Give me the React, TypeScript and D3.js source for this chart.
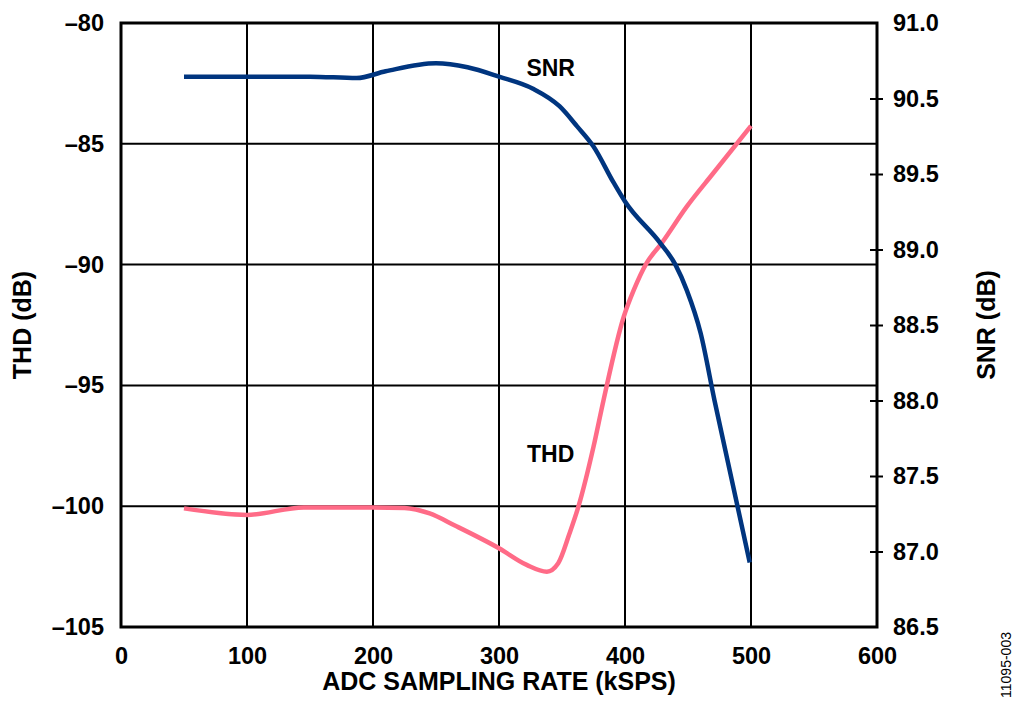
import { useEffect, useRef } from "react"
import * as d3 from "d3"

// sampling rate (kSPS) vs SNR (dB)
const snrRate = [50, 100, 150, 187, 210, 250, 275, 300, 327, 348, 362, 375, 391, 400, 428, 440, 449, 460, 471, 499]
const snrValue = [90.6, 90.6, 90.6, 90.59, 90.64, 90.7, 90.67, 90.6, 90.51, 90.38, 90.23, 90.08, 89.81, 89.67, 89.36, 89.2, 89.01, 88.69, 88.19, 86.98]

// sampling rate (kSPS) vs THD (dB)
const thdRate = [50, 100, 145, 200, 225, 245, 265, 300, 322, 338, 347, 356, 363, 375, 383, 399, 407, 417, 429, 449, 470, 500]
const thdValue = [-100.09, -100.36, -100.05, -100.05, -100.07, -100.3, -100.8, -101.74, -102.43, -102.71, -102.36, -101.12, -100.02, -97.54, -95.6, -92.16, -91.05, -89.95, -89.12, -87.6, -86.22, -84.26]

const xTicks = [0, 100, 200, 300, 400, 500, 600]
const thdTicks = [-80, -85, -90, -95, -100, -105]
// the right axis labels as printed (90.0 is skipped in the original)
const snrTickLabels = ["91.0", "90.5", "89.5", "89.0", "88.5", "88.0", "87.5", "87.0", "86.5"]

const SNR_COLOR = "#00357f"
const THD_COLOR = "#ff6b87"
const FONT = "'Liberation Sans', Arial, sans-serif"

export default function App() {
  const svgRef = useRef<SVGSVGElement>(null)

  useEffect(() => {
    if (!svgRef.current) return
    document.body.style.margin = "0"

    const width = 1024
    const height = 714
    const margin = { top: 23, right: 147, bottom: 87, left: 121 }
    const plotW = width - margin.left - margin.right
    const plotH = height - margin.top - margin.bottom

    const root = d3.select(svgRef.current)
    root.selectAll("*").remove()
    root.attr("width", width).attr("height", height)

    const svg = root.append("g").attr("transform", `translate(${margin.left},${margin.top})`)

    const x = d3.scaleLinear().domain([0, 600]).range([0, plotW])
    const yThd = d3.scaleLinear().domain([-105, -80]).range([plotH, 0])
    const ySnr = d3.scaleLinear().domain([86.5, 91]).range([plotH, 0])
    const ySnrTicks = d3.scalePoint<string>().domain(snrTickLabels).range([0, plotH])

    // grid
    svg
      .append("g")
      .selectAll("line")
      .data(xTicks.slice(1, -1))
      .enter()
      .append("line")
      .attr("x1", (d) => x(d))
      .attr("x2", (d) => x(d))
      .attr("y1", 0)
      .attr("y2", plotH)
      .attr("stroke", "#000")
      .attr("stroke-width", 2)

    svg
      .append("g")
      .selectAll("line")
      .data(thdTicks.slice(1, -1))
      .enter()
      .append("line")
      .attr("x1", 0)
      .attr("x2", plotW)
      .attr("y1", (d) => yThd(d))
      .attr("y2", (d) => yThd(d))
      .attr("stroke", "#000")
      .attr("stroke-width", 2)

    // left axis
    const left = svg
      .append("g")
      .call(d3.axisLeft(yThd).tickValues(thdTicks).tickSize(0).tickPadding(17).tickFormat((d) => `${d}`.replace("-", "\u2013")))
    left.select(".domain").remove()
    left.selectAll("text").attr("font-family", FONT).attr("font-weight", "bold").attr("font-size", 23.5).attr("fill", "#000")

    // bottom axis
    const bottom = svg
      .append("g")
      .attr("transform", `translate(0,${plotH})`)
      .call(d3.axisBottom(x).tickValues(xTicks).tickSize(0).tickPadding(20).tickFormat(d3.format("d")))
    bottom.select(".domain").remove()
    bottom.selectAll("text").attr("font-family", FONT).attr("font-weight", "bold").attr("font-size", 23.5).attr("fill", "#000")

    // right axis with ticks crossing the frame
    const right = svg
      .append("g")
      .attr("transform", `translate(${plotW},0)`)
      .call(d3.axisRight(ySnrTicks).tickSize(6).tickPadding(10))
    right.select(".domain").remove()
    right.selectAll(".tick line").attr("x1", -7).attr("stroke", "#000").attr("stroke-width", 2)
    right.selectAll(".tick").filter((_, i) => i === 0 || i === snrTickLabels.length - 1).select("line").remove()
    right.selectAll("text").attr("font-family", FONT).attr("font-weight", "bold").attr("font-size", 23.5).attr("fill", "#000")

    // frame
    svg
      .append("rect")
      .attr("width", plotW)
      .attr("height", plotH)
      .attr("fill", "none")
      .attr("stroke", "#000")
      .attr("stroke-width", 3)

    // curves
    const line = d3
      .line<[number, number]>()
      .x((d) => x(d[0]))
      .y((d) => d[1])
      .curve(d3.curveMonotoneX)

    const snrPts = snrRate.map((r, i) => [r, ySnr(snrValue[i])] as [number, number])
    const thdPts = thdRate.map((r, i) => [r, yThd(thdValue[i])] as [number, number])

    svg
      .append("path")
      .attr("d", line(thdPts))
      .attr("fill", "none")
      .attr("stroke", THD_COLOR)
      .attr("stroke-width", 4.5)

    svg
      .append("path")
      .attr("d", line(snrPts))
      .attr("fill", "none")
      .attr("stroke", SNR_COLOR)
      .attr("stroke-width", 4.5)

    // curve labels
    const label = (text: string, px: number, py: number) =>
      svg
        .append("text")
        .attr("x", px)
        .attr("y", py)
        .attr("text-anchor", "middle")
        .attr("font-family", FONT)
        .attr("font-weight", "bold")
        .attr("font-size", 23)
        .text(text)

    label("SNR", x(341), ySnr(90.665) + 8)
    label("THD", x(341), yThd(-97.84) + 8)

    // axis titles
    root
      .append("text")
      .attr("transform", `translate(${margin.left + plotW / 2},${height - 24})`)
      .attr("text-anchor", "middle")
      .attr("font-family", FONT)
      .attr("font-weight", "bold")
      .attr("font-size", 25)
      .text("ADC SAMPLING RATE (kSPS)")

    root
      .append("text")
      .attr("transform", `translate(31,${margin.top + plotH / 2}) rotate(-90)`)
      .attr("text-anchor", "middle")
      .attr("font-family", FONT)
      .attr("font-weight", "bold")
      .attr("font-size", 25)
      .text("THD (dB)")

    root
      .append("text")
      .attr("transform", `translate(995,${margin.top + plotH / 2}) rotate(-90)`)
      .attr("text-anchor", "middle")
      .attr("font-family", FONT)
      .attr("font-weight", "bold")
      .attr("font-size", 25)
      .text("SNR (dB)")

    root
      .append("text")
      .attr("transform", `translate(1011,665) rotate(-90)`)
      .attr("text-anchor", "middle")
      .attr("font-family", FONT)
      .attr("font-size", 14)
      .text("11095-003")
  }, [])

  return <svg ref={svgRef}></svg>
}
